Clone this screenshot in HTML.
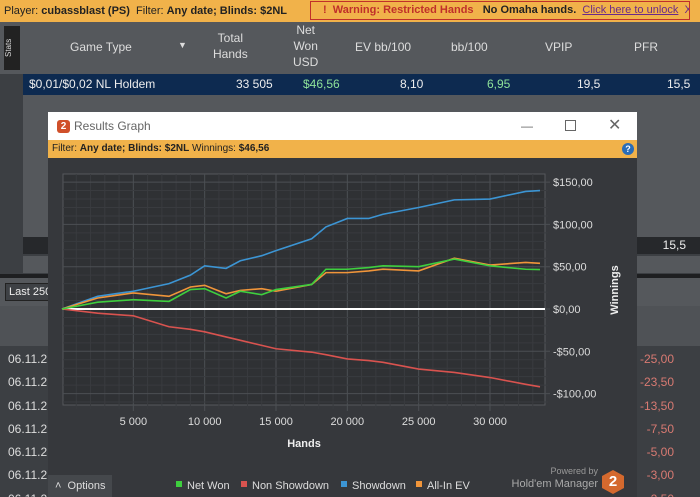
<!DOCTYPE html>
<html style="width:700px;height:497px;overflow:hidden"><head><meta charset="utf-8">
<style>
*{margin:0;padding:0;box-sizing:border-box}
body{width:700px;height:497px;overflow:hidden;background:#3c3f43;font-family:"Liberation Sans",sans-serif;position:relative;color:#eee}
.abs{position:absolute;white-space:nowrap}
</style></head><body>
<div class="abs" style="left:0;top:0;width:700px;height:22px;background:#f1b24a;color:#222;font-size:11px;line-height:22px;padding-left:4px">Player: <b>cubassblast (PS)</b>&nbsp; Filter: <b>Any date; Blinds: $2NL</b></div>
<div class="abs" style="left:310px;top:1px;width:380px;height:19px;border:1px solid #c0302a;color:#c0302a;font-size:11px;line-height:17px;padding-left:12px;background:#f1b24a;overflow:hidden"><b>! &nbsp;Warning: Restricted Hands</b> &nbsp;&nbsp;<b style="color:#222">No Omaha hands.</b> &nbsp;<span style="color:#6a2a8a;text-decoration:underline">Click here to unlock</span> &nbsp;<span style="color:#6a2a8a">X</span></div>
<div class="abs" style="left:0;top:22px;width:700px;height:52px;background:#55585c;font-size:12px;color:#ddd">
<div class="abs" style="left:4px;top:4px;width:16px;height:44px;background:#222;font-size:8px;writing-mode:vertical-rl;transform:rotate(180deg);text-align:center">Stats</div>
<div class="abs" style="left:70px;top:18px">Game Type</div><div class="abs" style="left:178px;top:18px;font-size:9px">▼</div>
<div class="abs" style="left:213px;top:8px;text-align:center;line-height:16px">Total<br>Hands</div>
<div class="abs" style="left:293px;top:0px;text-align:center;line-height:16px">Net<br>Won<br>USD</div>
<div class="abs" style="left:355px;top:18px">EV bb/100</div>
<div class="abs" style="left:451px;top:18px">bb/100</div>
<div class="abs" style="left:545px;top:18px">VPIP</div>
<div class="abs" style="left:634px;top:18px">PFR</div>
</div>
<div class="abs" style="left:23px;top:74px;width:677px;height:21px;background:#0d2a50;font-size:12px;line-height:21px;color:#eee">
<span class="abs" style="left:6px">$0,01/$0,02 NL Holdem</span><span class="abs" style="left:213px">33 505</span><span class="abs" style="left:280px;color:#8fe39a">$46,56</span><span class="abs" style="left:377px">8,10</span><span class="abs" style="left:464px;color:#8fe39a">6,95</span><span class="abs" style="left:554px">19,5</span><span class="abs" style="left:644px">15,5</span></div>
<div class="abs" style="left:23px;top:95px;width:677px;height:142px;background:#55585c"></div>
<div class="abs" style="left:23px;top:237px;width:677px;height:17px;background:#26282b;font-size:12px;text-align:right;padding-right:14px;line-height:17px">15,5</div>
<div class="abs" style="left:23px;top:256px;width:677px;height:17px;background:#55585c"></div>
<div class="abs" style="left:0;top:274px;width:700px;height:4px;background:#1e1f21"></div>
<div class="abs" style="left:0;top:278px;width:700px;height:28px;background:#55585c"></div>
<div class="abs" style="left:5px;top:283px;width:60px;height:18px;background:#3e4145;border:1px solid #222;font-size:11px;line-height:16px;padding-left:3px;overflow:hidden">Last 250</div>
<div class="abs" style="left:0;top:306px;width:700px;height:40px;background:#4f5256"></div>
<div class="abs" style="left:8px;top:348px;font-size:12px;line-height:23.3px;color:#ddd">06.11.2<br>06.11.2<br>06.11.2<br>06.11.2<br>06.11.2<br>06.11.2<br>06.11.2</div>
<div class="abs" style="left:630px;top:348px;font-size:12px;line-height:23.3px;color:#d87a72;text-align:right;width:44px">-25,00<br>-23,50<br>-13,50<br>-7,50<br>-5,00<br>-3,00<br>-2,50</div>

<div class="abs" style="left:48px;top:112px;width:589px;height:385px;background:#36383c">
<div class="abs" style="left:0;top:0;width:589px;height:28px;background:#fff;color:#666;font-size:12px;line-height:28px;padding-left:26px">Results Graph
<div class="abs" style="left:9px;top:8px;width:13px;height:13px;background:#d0502a;border-radius:3px;color:#fff;font-size:10px;line-height:13px;text-align:center;font-weight:bold">2</div>
<span class="abs" style="left:473px;top:0">—</span>
<span class="abs" style="left:517px;top:8px;width:11px;height:11px;border:1px solid #666"></span>
<span class="abs" style="left:560px;top:0;font-size:16px">✕</span></div>
<div class="abs" style="left:0;top:28px;width:589px;height:18px;background:#f1b24a;color:#222;font-size:10px;line-height:18px;padding-left:4px">Filter: <b>Any date; Blinds: $2NL</b> Winnings: <b>$46,56</b>
<span class="abs" style="left:574px;top:3px;width:12px;height:12px;border-radius:6px;background:#2a6db8;color:#fff;font-size:9px;line-height:12px;text-align:center;font-weight:bold">?</span></div>
</div>
<svg class="abs" style="left:0;top:0" width="700" height="497" id="chart"></svg>
<div class="abs" style="left:48px;top:475px;width:64px;height:22px;background:#45484c;font-size:11px;line-height:22px;color:#ddd;padding-left:7px">˄ &nbsp;Options</div>
<div class="abs" style="left:500px;top:466px;font-size:9px;color:#999;width:98px;text-align:right">Powered by</div>
<div class="abs" style="left:490px;top:478px;font-size:11px;color:#aaa;width:108px;text-align:right">Hold'em Manager</div>
<div class="abs" style="left:602px;top:470px;width:22px;height:24px;background:#d4692e;clip-path:polygon(50% 0,100% 25%,100% 75%,50% 100%,0 75%,0 25%);color:#fff;font-weight:bold;font-size:15px;line-height:24px;text-align:center">2</div>
<script>
const hands=[0,2500,5000,7500,9000,10000,11500,12500,14000,15000,17500,18500,20000,21500,22500,25000,27500,30000,32500,33505];
const netWon=[0,8,11,9,23,24,13,21,17,23,29,47,47,49,51,50,59,51,47,46.56];
const nonShowdown=[0,-5,-8,-21,-24,-27,-33,-37,-43,-47,-51,-54,-59,-61,-63,-71,-75,-81,-89,-92];
const showdown=[0,15,21,30,40,51,48,57,63,69,83,97,107,107,112,120,129,130,139,140];
const allInEV=[0,13,19,15,26,28,18,22,24,21,29,43,43,45,47,45,60,52,55,54];
const xTicks=[5000,10000,15000,20000,25000,30000];
const xTickLabels=["5 000","10 000","15 000","20 000","25 000","30 000"];
const yTicks=[150,100,50,0,-50,-100];
const yTickLabels=["$150,00","$100,00","$50,00","$0,00","-$50,00","-$100,00"];
const svg=document.getElementById('chart');const NS='http://www.w3.org/2000/svg';
const L=63,R=545,T=174,B=405;
const xs=h=>62+h*(490-62)/30000;
const ys=v=>309-v*0.846;
function mk(t,a,p){const e=document.createElementNS(NS,t);for(const k in a)e.setAttribute(k,a[k]);(p||svg).appendChild(e);return e;}
const bg=mk('rect',{x:L,y:T,width:R-L,height:B-T,fill:'#2f3134',stroke:'#55585c'});


for(let h=1000;xs(h)<R;h+=1000){const g=mk('line',{x1:xs(h),x2:xs(h),y1:T,y2:B+(h%5000?4:6),stroke:h%5000?'#393b3f':'#4c4f53','stroke-width':1});

}
for(let v=-110;v<=150;v+=10){if(ys(v)<T||ys(v)>B)continue;const g=mk('line',{x1:L,x2:R+(v%50?3:5),y1:ys(v),y2:ys(v),stroke:v%50?'#393b3f':'#4c4f53'});

}
xTicks.forEach((t,i)=>{const e=mk('text',{x:xs(t),y:425,fill:'#ddd','font-size':11,'text-anchor':'middle'});e.textContent=xTickLabels[i];

});
yTicks.forEach((t,i)=>{const e=mk('text',{x:553,y:ys(t)+4,fill:'#ddd','font-size':11});e.textContent=yTickLabels[i];

});
const xt=mk('text',{x:304,y:447,fill:'#eee','font-size':11,'font-weight':'bold','text-anchor':'middle'});xt.textContent='Hands';


const yt=mk('text',{x:0,y:0,fill:'#eee','font-size':11,'font-weight':'bold','text-anchor':'middle',transform:'translate(618,290) rotate(-90)'});yt.textContent='Winnings';


const z=mk('line',{x1:L,x2:R,y1:ys(0),y2:ys(0),stroke:'#fff','stroke-width':2});


const series=[['non-showdown-line',nonShowdown,'#d9534f'],['showdown-line',showdown,'#3c95d4'],['all-in-ev-line',allInEV,'#f0953a'],['net-won-line',netWon,'#3ecf3e']];
series.forEach(([n,d,c])=>{const p=mk('polyline',{points:hands.map((h,i)=>xs(h)+','+ys(d[i])).join(' '),fill:'none',stroke:c,'stroke-width':1.6});

});
const leg=[['Net Won','#3ecf3e',176],['Non Showdown','#d9534f',241],['Showdown','#3c95d4',341],['All-In EV','#f0953a',416]];
leg.forEach(([t,c,x])=>{const r=mk('rect',{x:x,y:481,width:6,height:6,fill:c});


const e=mk('text',{x:x+11,y:489,fill:'#ddd','font-size':11});e.textContent=t;

});
</script>
</body></html>
